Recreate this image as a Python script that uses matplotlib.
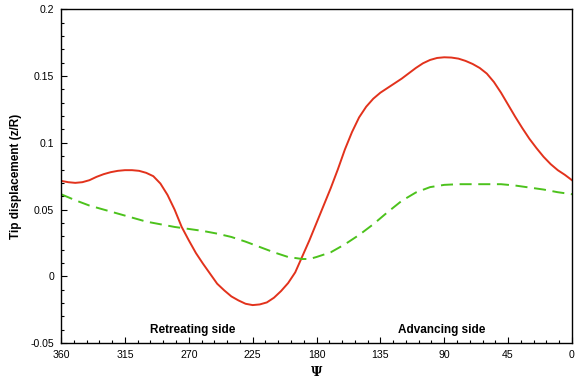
import numpy as np
import matplotlib
matplotlib.use("Agg")
import matplotlib.pyplot as plt
from matplotlib.ticker import MultipleLocator, FuncFormatter

# azimuth (deg) and tip displacement z/R
psi_red = [360, 355, 350, 345, 340, 335, 330, 325, 320, 315, 310, 305, 300, 295,
           290, 285, 280, 275, 270, 265, 260, 255, 250, 245, 240, 235, 230, 225,
           220, 215, 210, 205, 200, 195, 190, 185, 180, 175, 170, 165, 160, 155,
           150, 145, 140, 135, 130, 125, 120, 115, 110, 105, 100, 95, 90, 85, 80,
           75, 70, 65, 60, 55, 50, 45, 40, 35, 30, 25, 20, 15, 10, 5, 0]
z_red = [0.0715, 0.0705, 0.0700, 0.0705, 0.0720, 0.0745, 0.0765, 0.0780, 0.0790,
         0.0795, 0.0795, 0.0790, 0.0775, 0.0750, 0.0695, 0.0610, 0.0500, 0.0370,
         0.0270, 0.0175, 0.0095, 0.0020, -0.0055, -0.0105, -0.0150, -0.0180,
         -0.0205, -0.0215, -0.0210, -0.0195, -0.0160, -0.0110, -0.0050, 0.0030,
         0.0150, 0.0270, 0.0400, 0.0530, 0.0660, 0.0800, 0.0950, 0.1080, 0.1190,
         0.1270, 0.1330, 0.1375, 0.1410, 0.1445, 0.1480, 0.1520, 0.1560, 0.1595,
         0.1620, 0.1635, 0.1640, 0.1638, 0.1630, 0.1613, 0.1590, 0.1560, 0.1518,
         0.1455, 0.1375, 0.1285, 0.1195, 0.1110, 0.1030, 0.0960, 0.0895, 0.0840,
         0.0795, 0.0760, 0.0720]

psi_green = [360, 350, 340, 330, 320, 310, 300, 290, 280, 270, 260, 250, 240, 230,
             220, 210, 200, 190, 185, 180, 170, 160, 150, 140, 130, 120, 110, 100,
             90, 80, 70, 60, 50, 40, 30, 20, 10, 0]
z_green = [0.0615, 0.0570, 0.0530, 0.0500, 0.0470, 0.0440, 0.0410, 0.0390, 0.0370,
           0.0355, 0.0340, 0.0320, 0.0295, 0.0260, 0.0220, 0.0180, 0.0145, 0.0130,
           0.0130, 0.0145, 0.0180, 0.0240, 0.0310, 0.0390, 0.0480, 0.0565, 0.0628,
           0.0668, 0.0685, 0.0690, 0.0690, 0.0690, 0.0690, 0.0680, 0.0665, 0.0650,
           0.0630, 0.0615]

xticks = [360, 315, 270, 225, 180, 135, 90, 45, 0]

plt.rcParams['font.family'] = ['Liberation Sans', 'DejaVu Sans']

fig = plt.figure(figsize=(5.76, 3.83), dpi=100)
ax = fig.add_axes([0.106, 0.104, 0.887, 0.872])

ax.plot(psi_red, z_red, color='#e2321c', lw=1.4)
ax.plot(psi_green, z_green, color='#4cc21c', lw=1.4, dashes=(6.2, 3.4))

ax.set_xlim(360, 0)
ax.set_ylim(-0.05, 0.2)
ax.set_xticks(xticks)
ax.xaxis.set_minor_locator(MultipleLocator(9))
ax.yaxis.set_major_locator(MultipleLocator(0.05))
ax.yaxis.set_minor_locator(MultipleLocator(0.01))
ax.yaxis.set_major_formatter(FuncFormatter(lambda v, p: '{:g}'.format(round(v, 3))))

ax.tick_params(which='both', direction='in', top=False, right=False,
               labelsize=7.6, pad=5)
ax.tick_params(which='major', length=4, width=0.8)
ax.tick_params(which='minor', length=2.5, width=0.8)
for s in ax.spines.values():
    s.set_linewidth(1.0)

ax.set_ylabel('Tip displacement (z/R)', fontsize=8.5, fontweight='bold', labelpad=6)
ax.set_xlabel('Ψ', fontsize=9, fontweight='bold', family='DejaVu Serif', labelpad=4)

ax.text(267, -0.040, 'Retreating side', ha='center', va='center',
        fontsize=8.5, fontweight='bold')
ax.text(92, -0.040, 'Advancing side', ha='center', va='center',
        fontsize=8.5, fontweight='bold')

fig.savefig('out.png', dpi=100)
